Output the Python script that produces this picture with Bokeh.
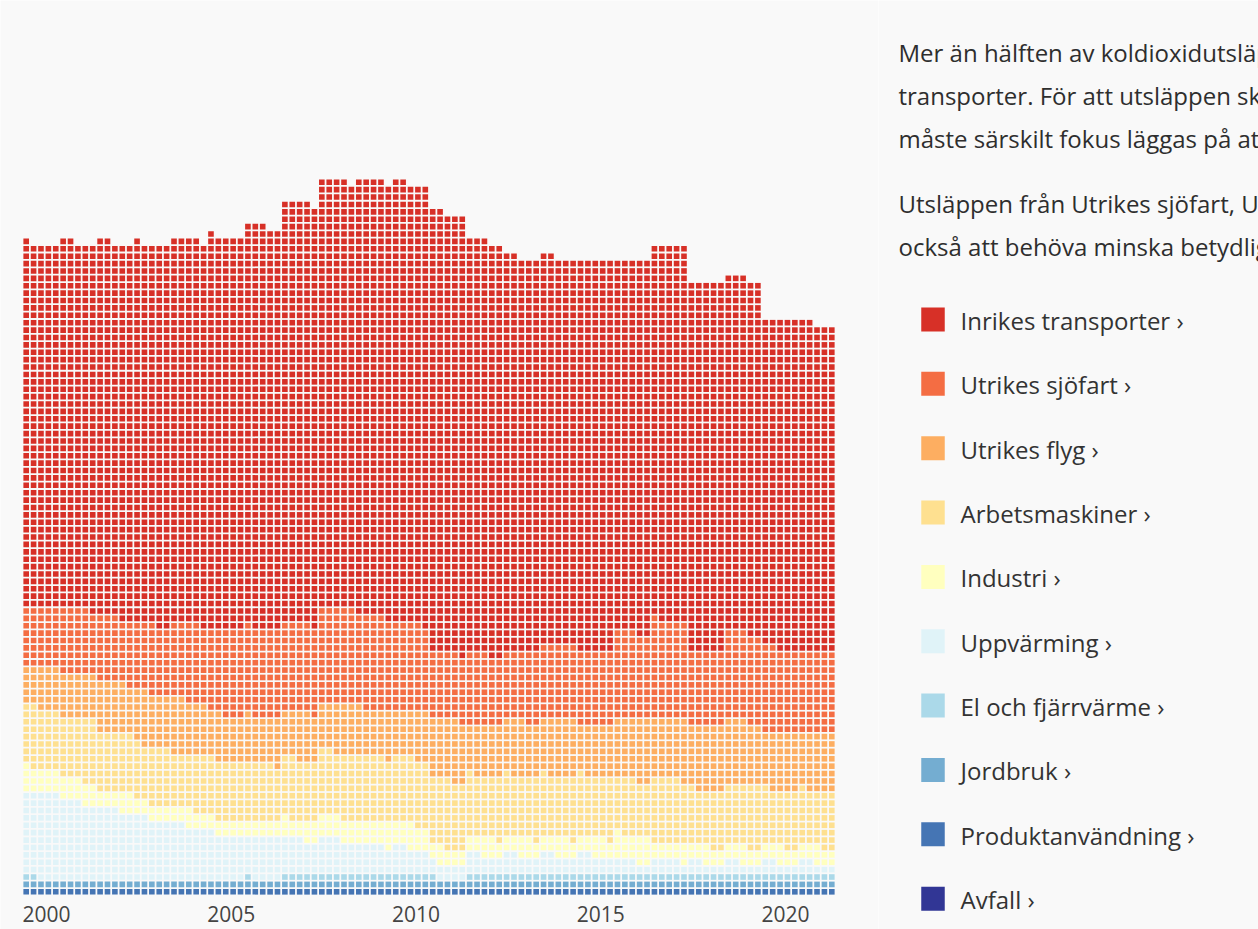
import numpy as np
from bokeh.plotting import figure
from bokeh.models import ColumnDataSource, Range1d
from bokeh.layouts import row
from bokeh.embed import file_html
from bokeh.resources import INLINE
from bokeh.core.properties import value

# ---------------- data (number of squares per year) ----------------
years = list(range(2000, 2022))
label_years = [2000, 2005, 2010, 2015, 2020]

categories = ["Inrikes transporter", "Utrikes sjöfart", "Utrikes flyg", "Arbetsmaskiner",
              "Industri", "Uppvärming", "El och fjärrvärme", "Jordbruk",
              "Produktanvändning", "Avfall"]
colors = ["#d73027", "#f46d43", "#fdae61", "#fee090", "#ffffbf",
          "#e0f3f8", "#abd9e9", "#74add1", "#4575b4", "#313695"]

inrikes = [246, 248, 254, 258, 260, 266, 272, 285, 289, 295, 298,
           298, 280, 267, 262, 265, 252, 254, 250, 240, 223, 222]
sjofart = [40, 44, 44, 46, 52, 58, 60, 60, 65, 63, 59,
           45, 48, 47, 50, 50, 58, 66, 50, 60, 57, 55]
flyg = [28, 30, 34, 36, 37, 31, 32, 32, 33, 32, 32,
        41, 34, 37, 39, 34, 42, 41, 44, 43, 39, 39]
arbetsmaskiner = [41, 42, 40, 39, 37, 40, 39, 41, 44, 44, 45,
                  46, 42, 42, 42, 42, 37, 44, 38, 42, 38, 38]
industri = [16, 15, 12, 10, 11, 10, 10, 13, 15, 16, 16,
            11, 12, 12, 12, 12, 18, 11, 11, 11, 11, 11]
uppvarmning = [58, 53, 48, 42, 37, 31, 29, 23, 23, 19, 17,
               10, 12, 12, 12, 12, 8, 9, 7, 7, 7, 7]
el_fjarrvarme = [2, 0, 0, 0, 0, 0, 1, 5, 5, 5, 5,
                 1, 5, 5, 5, 5, 5, 5, 5, 5, 5, 5]
jordbruk = [5] * 22
produktanvandning = [5] * 22
avfall = [0] * 22

series = [inrikes, sjofart, flyg, arbetsmaskiner, industri, uppvarmning,
          el_fjarrvarme, jordbruk, produktanvandning, avfall]

paragraph_lines = [
    "Mer än hälften av koldioxidutsläppen kommer från",
    "transporter. För att utsläppen ska minska i den takt som krävs",
    "måste särskilt fokus läggas på att minska dessa utsläpp.",
    "Utsläppen från Utrikes sjöfart, Utrikes flyg och Arbetsmaskiner kommer",
    "också att behöva minska betydligt.",
]

# ---------------- build waffle squares ----------------
COLS_PER_YEAR = 5
xs, ys, cs = [], [], []
for yi, yr in enumerate(years):
    n = 0
    # stack from bottom (last category) to top (first category)
    for cat_i in range(len(categories) - 1, -1, -1):
        cnt = series[cat_i][yi]
        for _ in range(cnt):
            col = yi * COLS_PER_YEAR + (n % COLS_PER_YEAR)
            rw = n // COLS_PER_YEAR
            xs.append(col + 0.5)
            ys.append(rw + 0.5)
            cs.append(colors[cat_i])
            n += 1

src = ColumnDataSource(dict(x=xs, y=ys, color=cs))

BG = "#f9f9f9"
FONT = "Open Sans"

# ---------------- chart figure (frame = whole figure) ----------------
n_cols = len(years) * COLS_PER_YEAR
CW, CH = 878, 929
grid_left, grid_right, grid_bottom = 22, 835, 895   # pixel placement of grid
pitch = (grid_right - grid_left) / n_cols

p = figure(output_backend="svg", toolbar_location=None, width=CW, height=CH,
           x_range=Range1d(-grid_left / pitch, (CW - grid_left) / pitch),
           y_range=Range1d(-(CH - grid_bottom) / pitch, grid_bottom / pitch),
           x_axis_location=None, y_axis_location=None, min_border=0,
           background_fill_color=BG, border_fill_color=BG, outline_line_color=None)
p.grid.visible = False
p.rect(x="x", y="y", width=0.76, height=0.76, fill_color="color",
       line_color=None, source=src)

# year labels, left-aligned at the first column of each labelled year
lab_x = [(yr - years[0]) * COLS_PER_YEAR for yr in label_years]
lab_y = [-10 / pitch] * len(label_years)
p.text(x=lab_x, y=lab_y, text=[str(y) for y in label_years],
       text_font=value(FONT), text_font_size="21px", text_color="#444444",
       text_baseline="top", text_align="left")

# ---------------- right text / legend panel ----------------
TW, TH = 1258 - CW, CH
t = figure(output_backend="svg", toolbar_location=None, width=TW, height=TH,
           x_range=Range1d(0, TW), y_range=Range1d(TH, 0),
           x_axis_location=None, y_axis_location=None,
           min_border=0, background_fill_color=BG, border_fill_color=BG,
           outline_line_color=None)
t.grid.visible = False

par_y = [52, 95, 138, 203, 246]
t.text(x=[20] * len(paragraph_lines), y=par_y, text=paragraph_lines,
       text_font=value(FONT), text_font_size="24px", text_color="#2e2e2e",
       text_baseline="alphabetic", text_align="left")

leg_y = [319 + 64.35 * i for i in range(len(categories))]
t.rect(x=[54.5] * len(categories), y=leg_y, width=23.5, height=24,
       fill_color=colors, line_color=None)
t.text(x=[82] * len(categories), y=[v + 1 for v in leg_y],
       text=[c + "  ›" for c in categories],
       text_font=value(FONT), text_font_size="24px", text_color="#333333",
       text_baseline="middle", text_align="left")

layout = row(p, t)
open("out.html", "w").write(file_html(layout, INLINE))
